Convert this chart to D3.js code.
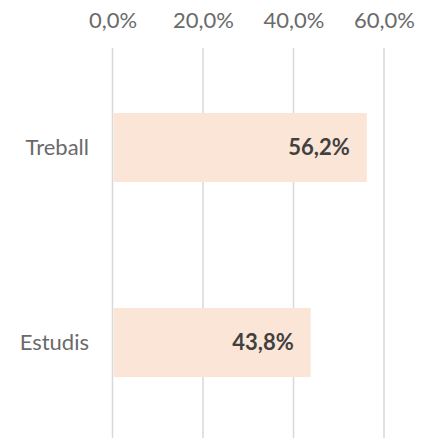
<!DOCTYPE html>
<html>
<head>
<meta charset="utf-8">
<script src="https://cdn.jsdelivr.net/npm/d3@7"></script>
<style>
  body { margin: 0; background: #fff; }
  svg { display: block; font-family: Lato, "Open Sans", sans-serif; }
</style>
</head>
<body>
<div id="chart"></div>
<script>
const categories = ['Treball', 'Estudis'];
const values = [56.2, 43.8];
const ticks = [0, 20, 40, 60];

const width = 430, height = 438;
const margin = { top: 50, left: 112.5, right: 46 };

const locale = d3.formatLocale({ decimal: ',', thousands: '.', grouping: [3], currency: ['', '€'] });
const pct = v => locale.format('.1f')(v) + '%';

const svg = d3.select('#chart')
  .append('svg')
  .attr('width', width)
  .attr('height', height);

const x = d3.scaleLinear()
  .domain([0, 60])
  .range([margin.left, width - margin.right]);

const y = d3.scaleBand()
  .domain(categories)
  .range([margin.top, height + 2])
  .paddingInner(0.646)
  .paddingOuter(0.323);

// gridlines
svg.selectAll('.grid')
  .data(ticks)
  .enter()
  .append('line')
  .attr('class', 'grid')
  .attr('x1', d => x(d))
  .attr('x2', d => x(d))
  .attr('y1', margin.top - 2)
  .attr('y2', height)
  .attr('stroke', '#d9d9d9')
  .attr('stroke-width', 1.5);

// top axis labels
const axis = svg.append('g')
  .attr('transform', 'translate(0, 28)')
  .call(d3.axisTop(x).tickValues(ticks).tickFormat(pct).tickSize(0).tickPadding(0));
axis.select('.domain').remove();
axis.selectAll('text')
  .attr('fill', '#6a6a6a')
  .attr('dy', 0)
  .style('font-size', '22px')
  .style('font-family', 'Lato, sans-serif');

// bars
svg.selectAll('.bar')
  .data(values)
  .enter()
  .append('rect')
  .attr('class', 'bar')
  .attr('x', x(0) + 1)
  .attr('y', (d, i) => y(categories[i]))
  .attr('width', d => x(d) - x(0) - 1)
  .attr('height', y.bandwidth())
  .attr('fill', '#fbe5d6');

// category labels
svg.selectAll('.cat')
  .data(categories)
  .enter()
  .append('text')
  .attr('class', 'cat')
  .attr('x', 89)
  .attr('y', d => y(d) + y.bandwidth() / 2)
  .attr('dy', '0.35em')
  .attr('text-anchor', 'end')
  .attr('fill', '#6a6a6a')
  .style('font-size', '22px')
  .text(d => d);

// value labels
svg.selectAll('.val')
  .data(values)
  .enter()
  .append('text')
  .attr('class', 'val')
  .attr('x', d => x(d) - 17)
  .attr('y', (d, i) => y(categories[i]) + y.bandwidth() / 2)
  .attr('dy', '0.35em')
  .attr('text-anchor', 'end')
  .attr('fill', '#404040')
  .style('font-size', '22px')
  .style('font-weight', 'bold')
  .text(d => pct(d));
</script>
</body>
</html>
